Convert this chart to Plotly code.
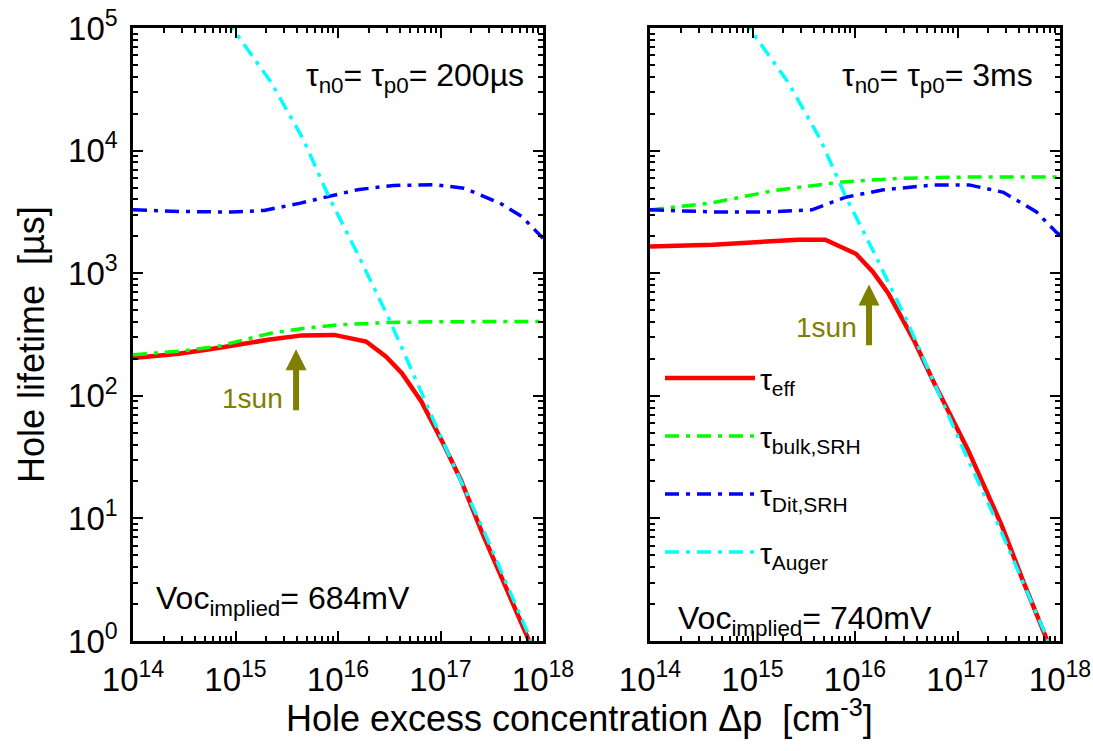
import plotly.graph_objects as go
import math

# ---------------- data ----------------
# Left panel: tau_n0 = tau_p0 = 200 us
eff_L_x = [1e14, 2.8e14, 6.75e14, 2.07e15, 4.45e15, 9.2e15, 1.88e16, 2.93e16, 4.2e16,
           6.5e16, 1.06e17, 1.58e17, 2.56e17, 3.82e17, 7.26e17, 1e18]
eff_L_y = [203, 220, 245, 286, 311, 314, 277, 209, 153, 89.8, 41, 20.6, 7.57, 3.57, 1.05, 0.55]

bulk_L_x = [1e14, 3e14, 7e14, 1e15, 2.2e15, 4.7e15, 1e16, 3e16, 1e17, 1e18]
bulk_L_y = [216, 232, 255, 275, 324, 356, 379, 396, 402, 404]

dit_L_x = [1e14, 2.8e14, 9.3e14, 1.9e15, 4.3e15, 8.1e15, 1.55e16, 3.5e16, 8.9e16,
           1.7e17, 3.8e17, 6.2e17, 1e18]
dit_L_y = [3290, 3190, 3150, 3250, 3730, 4230, 4800, 5200, 5260, 4940, 3730, 2900, 1930]

# Right panel: tau_n0 = tau_p0 = 3 ms
eff_R_x = [1e14, 4.1e14, 2.78e15, 5.13e15, 1.02e16, 1.49e16, 2.11e16, 3.21e16, 3.74e16,
           5.92e16, 1.27e17, 2.73e17, 4.32e17, 7.36e17, 1e18]
eff_R_y = [1650, 1705, 1875, 1875, 1440, 1030, 687, 356, 286, 127, 36, 8.57, 3.15, 1.05, 0.56]

bulk_R_x = [1e14, 4e14, 1.7e15, 7.5e15, 2.8e16, 1.2e17, 1e18]
bulk_R_y = [3280, 3750, 4750, 5550, 5950, 6080, 6100]

dit_R_x = [1e14, 4.1e14, 1.3e15, 3.8e15, 8.1e15, 1.9e16, 5.9e16, 1.3e17, 2.8e17,
           5.9e17, 9.3e17, 1e18]
dit_R_y = [3290, 3160, 3150, 3290, 4170, 4790, 5250, 5250, 4570, 3160, 2140, 2050]

# Auger (same in both panels)
aug_x = [5e14, 9.3e14, 2.25e15, 4.6e15, 8.1e15, 1.54e16, 3.18e16, 7.1e16, 1.15e17,
         2.6e17, 5e17, 1e18]
aug_y = [1.9e5, 1.0e5, 3.56e4, 1.23e4, 4230, 1460, 417, 90, 36, 8.2, 2.3, 0.6]

# 1-sun markers (x position, arrow tail y, arrow tip y)
sun_L = (3.9e15, 74, 240)
sun_R = (1.37e16, 251, 810)

x_tickvals = [1e14, 1e15, 1e16, 1e17, 1e18]
x_ticktext = ["10<sup>14</sup>", "10<sup>15</sup>", "10<sup>16</sup>", "10<sup>17</sup>", "10<sup>18</sup>"]
y_tickvals = [1, 10, 100, 1e3, 1e4, 1e5]
y_ticktext = ["10<sup>0</sup>", "10<sup>1</sup>", "10<sup>2</sup>", "10<sup>3</sup>", "10<sup>4</sup>", "10<sup>5</sup>"]

# ---------------- styling ----------------
W, H = 1093, 751
FONT = "Liberation Sans, Arial, Helvetica, sans-serif"
RED, GREEN, BLUE, CYAN, OLIVE = "#ff0000", "#00ff00", "#0000ff", "#00ffff", "#808000"
DASH = "14px,7px,4px,7px"

def px(x):
    return x / W

def py(y):
    return 1 - y / H

fig = go.Figure()

def add_panel(xa, ya, eff, bulk, dit, showlegend):
    fig.add_trace(go.Scatter(x=eff[0], y=eff[1], mode="lines", name="τ<sub>eff</sub>",
                             line=dict(color=RED, width=4.5), xaxis=xa, yaxis=ya,
                             showlegend=showlegend, legendgroup="a"))
    fig.add_trace(go.Scatter(x=bulk[0], y=bulk[1], mode="lines", name="τ<sub>bulk,SRH</sub>",
                             line=dict(color=GREEN, width=3.5, dash=DASH), xaxis=xa, yaxis=ya,
                             showlegend=showlegend, legendgroup="b"))
    fig.add_trace(go.Scatter(x=dit[0], y=dit[1], mode="lines", name="τ<sub>Dit,SRH</sub>",
                             line=dict(color=BLUE, width=3.5, dash=DASH), xaxis=xa, yaxis=ya,
                             showlegend=showlegend, legendgroup="c"))
    fig.add_trace(go.Scatter(x=aug_x, y=aug_y, mode="lines", name="τ<sub>Auger</sub>",
                             line=dict(color=CYAN, width=3.5, dash=DASH), xaxis=xa, yaxis=ya,
                             showlegend=showlegend, legendgroup="d"))

add_panel("x", "y", (eff_L_x, eff_L_y), (bulk_L_x, bulk_L_y), (dit_L_x, dit_L_y), False)
add_panel("x2", "y2", (eff_R_x, eff_R_y), (bulk_R_x, bulk_R_y), (dit_R_x, dit_R_y), True)

common_axis = dict(
    type="log", showline=True, linewidth=2.5, linecolor="black", mirror="allticks",
    ticks="inside", ticklen=10, tickwidth=2, tickcolor="black", showgrid=False,
    zeroline=False, automargin=False, tickfont=dict(family=FONT, size=33, color="black"),
    minor=dict(ticks="inside", ticklen=5, tickwidth=1.5, tickcolor="black",
               dtick="D1", showgrid=False),
)

xdomL = [133 / W, 543 / W]
xdomR = [650 / W, 1060 / W]
ydom = [1 - 641 / H, 1 - 28 / H]

fig.update_layout(
    width=W, height=H, margin=dict(l=0, r=0, t=0, b=0, pad=0, autoexpand=False),
    autosize=False,
    paper_bgcolor="white", plot_bgcolor="white",
    font=dict(family=FONT, color="black"),
    xaxis=dict(common_axis, domain=xdomL, range=[14, 18], anchor="y",
               tickvals=x_tickvals, ticktext=x_ticktext, ticklabelstandoff=8),
    yaxis=dict(common_axis, domain=ydom, range=[0, 5], anchor="x",
               tickvals=y_tickvals, ticktext=y_ticktext, ticklabelstandoff=6),
    xaxis2=dict(common_axis, domain=xdomR, range=[14, 18], anchor="y2",
                tickvals=x_tickvals, ticktext=x_ticktext, ticklabelstandoff=8),
    yaxis2=dict(common_axis, domain=ydom, range=[0, 5], anchor="x2",
                tickvals=y_tickvals, ticktext=y_ticktext, showticklabels=False),
    legend=dict(x=px(660), y=py(352), xanchor="left", yanchor="top",
                bgcolor="rgba(0,0,0,0)", font=dict(family=FONT, size=30, color="black"),
                itemwidth=90, tracegroupgap=16),
    showlegend=True,
)

ann = []
# axis titles
ann.append(dict(text="Hole excess concentration Δp  [cm<sup>-3</sup>]", x=px(579), y=py(716),
                xanchor="center", yanchor="middle",
                xref="paper", yref="paper", showarrow=False, font=dict(size=36)))
ann.append(dict(text="Hole lifetime  [µs]", x=px(31), y=py(345), textangle=-90,
                xanchor="center", yanchor="middle",
                xref="paper", yref="paper", showarrow=False, font=dict(size=36)))
# tau labels
ann.append(dict(text="τ<sub>n0</sub>= τ<sub>p0</sub>= 200µs", x=px(526), y=py(78),
                xanchor="right", yanchor="middle", xref="paper", yref="paper",
                showarrow=False, font=dict(size=32)))
ann.append(dict(text="τ<sub>n0</sub>= τ<sub>p0</sub>= 3ms", x=px(1035), y=py(78),
                xanchor="right", yanchor="middle", xref="paper", yref="paper",
                showarrow=False, font=dict(size=32)))
# Voc labels
ann.append(dict(text="Voc<sub>implied</sub>= 684mV", x=px(154), y=py(600),
                xanchor="left", yanchor="middle", xref="paper", yref="paper",
                showarrow=False, font=dict(size=32)))
ann.append(dict(text="Voc<sub>implied</sub>= 740mV", x=px(676), y=py(620),
                xanchor="left", yanchor="middle", xref="paper", yref="paper",
                showarrow=False, font=dict(size=32)))
# 1sun labels
ann.append(dict(text="1sun", x=px(285), y=py(399), xanchor="right", yanchor="middle",
                xref="paper", yref="paper", showarrow=False, font=dict(size=28, color=OLIVE)))
ann.append(dict(text="1sun", x=px(859), y=py(327), xanchor="right", yanchor="middle",
                xref="paper", yref="paper", showarrow=False, font=dict(size=28, color=OLIVE)))
# 1sun arrows
for (sx, s0, s1), xr, yr in [(sun_L, "x", "y"), (sun_R, "x2", "y2")]:
    ann.append(dict(x=math.log10(sx), y=math.log10(s1), ax=math.log10(sx), ay=math.log10(s0),
                    xref=xr, yref=yr, axref=xr, ayref=yr, showarrow=True, text="",
                    arrowhead=2, arrowsize=0.7, arrowwidth=6, arrowcolor=OLIVE, standoff=0))

fig.update_layout(annotations=ann)
fig.write_html("out.html")
